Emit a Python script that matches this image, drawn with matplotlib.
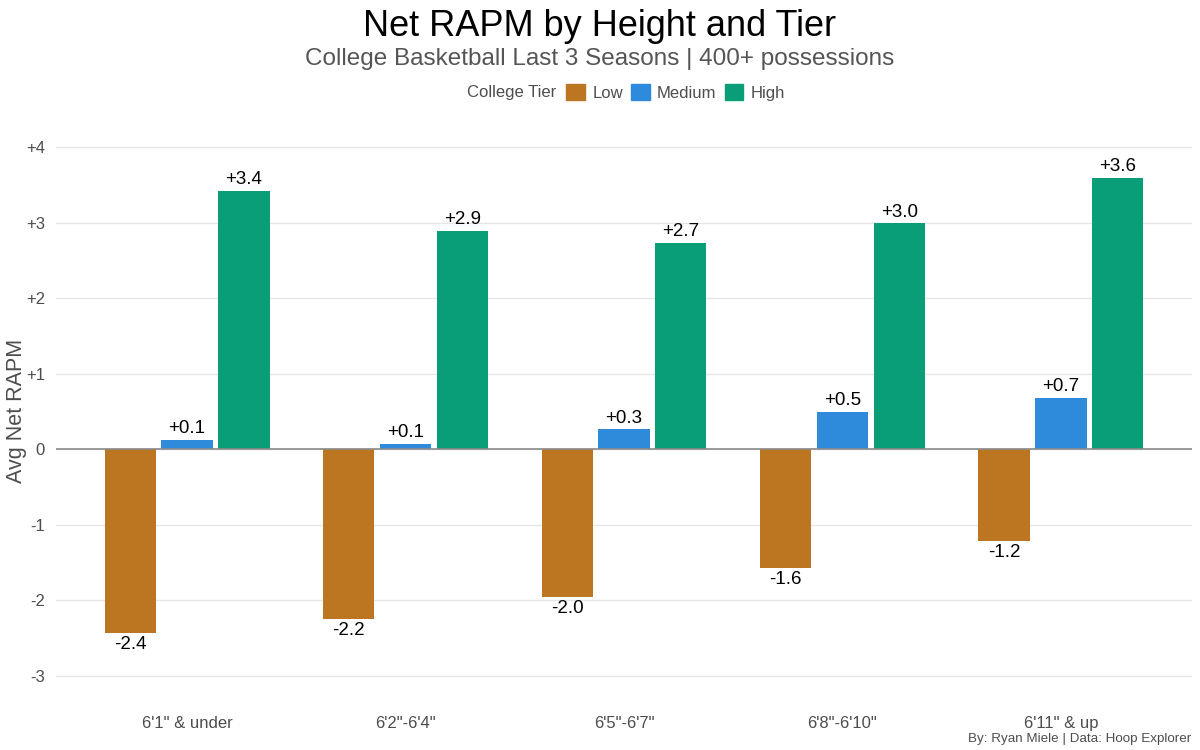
import matplotlib
matplotlib.use("Agg")
import matplotlib.pyplot as plt
from matplotlib.patches import Patch
import numpy as np

plt.rcParams["font.family"] = ["Liberation Sans", "DejaVu Sans"]

heights = ["6'1\" & under", "6'2\"-6'4\"", "6'5\"-6'7\"", "6'8\"-6'10\"", "6'11\" & up"]
tiers = ["Low", "Medium", "High"]
low = [-2.44, -2.25, -1.96, -1.58, -1.22]
medium = [0.12, 0.07, 0.26, 0.49, 0.68]
high = [3.42, 2.89, 2.73, 2.99, 3.59]
colors = {"Low": "#BC7622", "Medium": "#2E8BDC", "High": "#0A9E78"}

fig = plt.figure(figsize=(12, 7.5), dpi=100)
ax = fig.add_axes([0.0467, 0.064, 0.9466, 0.775])

x = np.arange(1, len(heights) + 1)
offsets = [-0.26, 0.0, 0.26]
width = 0.235

for vals, tier, off in zip([low, medium, high], tiers, offsets):
    bars = ax.bar(x + off, vals, width=width, color=colors[tier], zorder=3)
    ax.bar_label(bars, labels=[f"{v:+.1f}".replace("+-", "-") for v in vals],
                 padding=2, fontsize=13.5, color="black")

ax.axhline(0, color="#8a8a8a", linewidth=1.2, zorder=4)
ax.set_xlim(0.4, 5.6)
ax.set_ylim(-3.35, 4.35)
ax.set_yticks(range(-3, 5))
ax.set_yticklabels([f"+{t}" if t > 0 else str(t) for t in range(-3, 5)])
ax.set_xticks(x)
ax.set_xticklabels(heights)
ax.grid(axis="y", color="#e6e6e6", linewidth=1, zorder=0)
ax.grid(axis="x", visible=False)
for s in ax.spines.values():
    s.set_visible(False)
ax.tick_params(axis="both", length=0, labelsize=12, labelcolor="#4d4d4d", pad=8)
ax.tick_params(axis="x", pad=10)
ax.set_ylabel("Avg Net RAPM", fontsize=15.5, color="#4d4d4d")
ax.yaxis.set_label_coords(-0.026, 0.5)

fig.text(0.5, 0.965, "Net RAPM by Height and Tier", ha="center", va="center",
         fontsize=26, color="black")
fig.text(0.5, 0.921, "College Basketball Last 3 Seasons | 400+ possessions", ha="center",
         va="center", fontsize=17.5, color="#555555")

handles = [Patch(color=colors[t]) for t in tiers]
fig.text(0.4635, 0.877, "College Tier", ha="right", va="center", fontsize=12, color="#4d4d4d")
fig.legend(handles, tiers, ncol=3, loc="center left", bbox_to_anchor=(0.472, 0.877),
           frameon=False, fontsize=12, handlelength=1.1, handleheight=1.1,
           handletextpad=0.45, columnspacing=0.5, borderpad=0, borderaxespad=0,
           labelcolor="#4d4d4d")

fig.text(0.993, 0.015, "By: Ryan Miele | Data: Hoop Explorer", ha="right", va="center",
         fontsize=9.6, color="#4d4d4d")

fig.savefig("out.png", dpi=100)
